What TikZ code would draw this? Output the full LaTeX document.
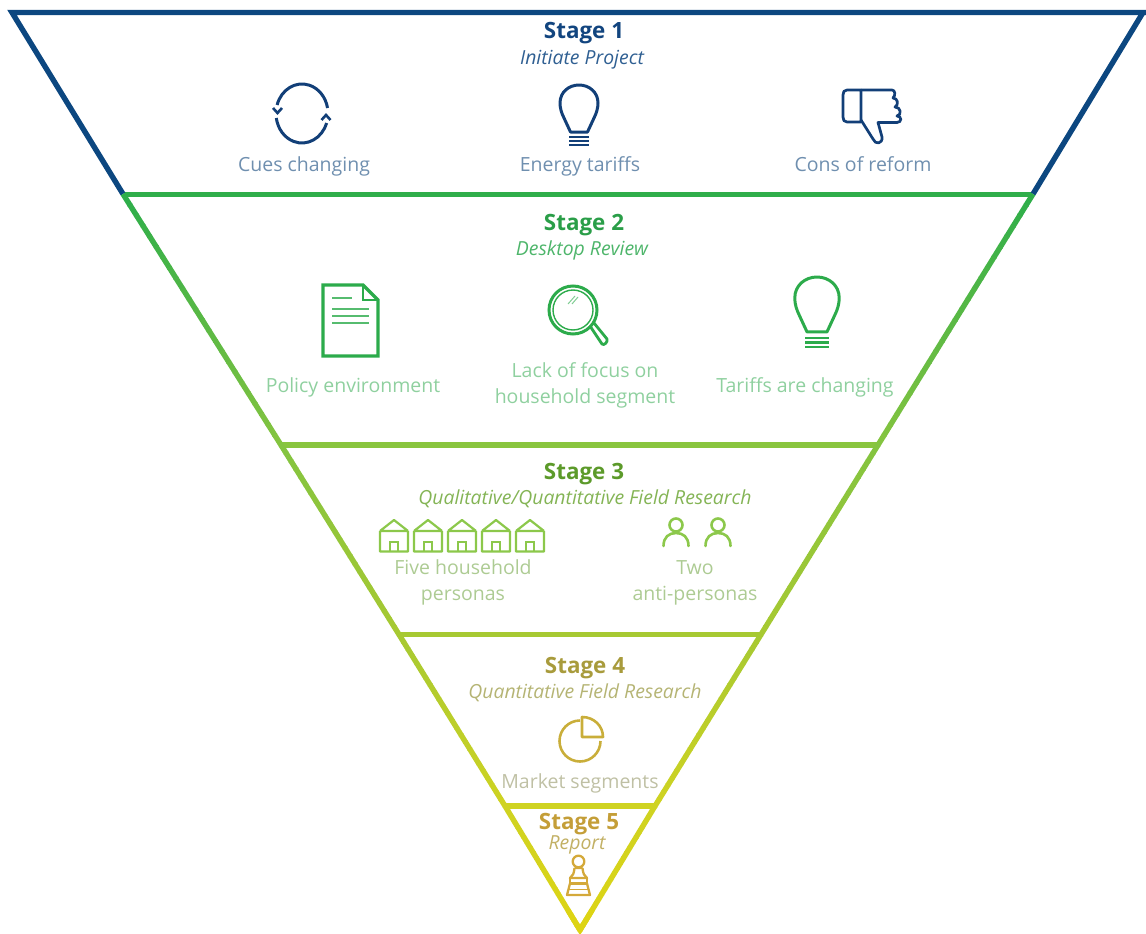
\documentclass[tikz,border=0pt]{standalone}
\usepackage{fontspec}
\setmainfont{Open Sans}
\definecolor{bA}{HTML}{0C4780}
\definecolor{gA}{HTML}{2FAE4A}
\definecolor{gB}{HTML}{84C440}
\definecolor{gC}{HTML}{A7C932}
\definecolor{gD}{HTML}{CFD322}
\definecolor{gE}{HTML}{DDD414}
\definecolor{tA}{HTML}{12457F}\definecolor{iA}{HTML}{2F5F92}\definecolor{lA}{HTML}{6F8FAF}\definecolor{icA}{HTML}{123F78}
\definecolor{tB}{HTML}{2A9E48}\definecolor{iB}{HTML}{4DB56A}\definecolor{lB}{HTML}{8FD09F}\definecolor{icB}{HTML}{2CAB4B}
\definecolor{tC}{HTML}{5C9A2A}\definecolor{iC}{HTML}{84B455}\definecolor{lC}{HTML}{ADCB93}\definecolor{icC}{HTML}{8CC84B}
\definecolor{tD}{HTML}{A89B3C}\definecolor{iD}{HTML}{B5B474}\definecolor{lD}{HTML}{BFC0A4}\definecolor{icD}{HTML}{C9AE3A}
\definecolor{tE}{HTML}{C49E38}\definecolor{iE}{HTML}{C2B064}\definecolor{icE}{HTML}{D4A93A}
\newcommand{\gradseg}[6]{%
  \foreach \i in {0,...,23}{%
    \pgfmathsetmacro{\xa}{#1+(#3-#1)*\i/24}\pgfmathsetmacro{\ya}{#2+(#4-#2)*\i/24}%
    \pgfmathsetmacro{\xb}{#1+(#3-#1)*(\i+1.1)/24}\pgfmathsetmacro{\yb}{#2+(#4-#2)*(\i+1.1)/24}%
    \pgfmathtruncatemacro{\pc}{100*\i/23}%
    \draw[edge,draw={#6!\pc!#5}] (\xa,\ya) -- (\xb,\yb);}}
\newcommand{\bulbicon}[4]{%
  \begin{scope}[shift={(#1,#2)},scale=#4,icon,draw=#3]
    \draw[line join=round] (-8.5,47) -- (-15,33) .. controls (-17.5,28) and (-19,23) .. (-19,18) .. controls (-19,7) and (-10,0) .. (0,0) .. controls (10,0) and (19,7) .. (19,18) .. controls (19,23) and (17.5,28) .. (15,33) -- (8.5,47) -- cycle;
    \draw[line width=2.4pt] (-10,52) -- (10,52) (-10,56) -- (10,56) (-10,60) -- (10,60);
  \end{scope}}
\newcommand{\houseicon}[1]{%
  \begin{scope}[shift={(#1,519)},icon,draw=icC,line width=2.2pt]
    \draw[line join=round] (1,12) -- (15,1) -- (29,12) (1,12) -- (1,32.5) -- (29,32.5) -- (29,12) (1,12) -- (29,12);
    \draw (11,32.5) -- (11,23) -- (19,23) -- (19,32.5);
  \end{scope}}
\newcommand{\personicon}[1]{%
  \begin{scope}[shift={(#1,525)},icon,draw=icC,line width=2.6pt]
    \draw (0,0) circle (6.5);
    \draw[line cap=round] (-12.5,21) .. controls (-12.5,12) and (-7,8) .. (0,8) .. controls (7,8) and (12.5,12) .. (12.5,21);
  \end{scope}}
\tikzset{
  edge/.style={line width=5.4pt,line cap=butt},
  icon/.style={line width=3pt,line join=miter},
  stagetitle/.style={font=\fontsize{22.4}{26}\selectfont\bfseries,inner sep=0pt,anchor=base},
  stagesub/.style={font=\fontsize{19.4}{22}\selectfont\itshape,inner sep=0pt,anchor=base},
  stagelabel/.style={font=\fontsize{19.5}{26}\selectfont,inner sep=0pt,align=center,anchor=base},
  stagelabeltwo/.style={font=\fontsize{19.5}{26}\selectfont,inner sep=0pt,align=center},
}
\begin{document}
\begin{tikzpicture}[x=1pt,y=-1pt]
\useasboundingbox (0,0) rectangle (1146,934);
% horizontal bars
\draw[edge,draw=gA] (124,194.5) -- (1032,194.5);
\draw[edge,draw=gB!85!gC] (281,445) -- (878,445);
\draw[edge,draw=gC] (399,634.5) -- (761,634.5);
\draw[edge,draw=gD] (505,806) -- (655,806);
% outline
\draw[edge,draw=bA,line join=miter] (123,194) -- (12,12.5) -- (1146,12.5);
\draw[edge,draw=bA] (1033,194) -- (1143,12.5);
\gradseg{123}{194}{281}{445}{gA}{gB}
\gradseg{1033}{194}{878}{445}{gA}{gB}
\gradseg{281}{445}{399}{634.5}{gB}{gC}
\gradseg{878}{445}{761}{634.5}{gB}{gC}
\gradseg{399}{634.5}{505}{806}{gC}{gD}
\gradseg{761}{634.5}{655}{806}{gC}{gD}
\gradseg{505}{806}{580}{930}{gD}{gE}
\gradseg{655}{806}{580}{930}{gD}{gE}
\draw[edge,draw=gE,line join=miter] (568,910.2) -- (580,930) -- (592,910.2);
% stage 1
\node[stagetitle,text=tA] (s1) at (584,39) {Stage 1};
\node[stagesub,text=iA] (s1s) at (582,64) {Initiate Project};
\node[stagelabel,text=lA] (l11) at (304,171) {Cues changing};
\node[stagelabel,text=lA] (l12) at (580,171) {Energy tariffs};
\node[stagelabel,text=lA] (l13) at (863,171) {Cons of reform};
\begin{scope}[icon,draw=icA]
  \draw (277.1,105) arc (196.7:349.3:26 and 29.5);
  \draw (326.6,123) arc (18.8:171.2:26 and 29.5);
  \draw[line width=2.6pt] (273,108) -- (277.5,113) -- (282,108);
  \draw[line width=2.6pt] (321.5,120) -- (326,115) -- (330.5,120);
\end{scope}
\bulbicon{579}{85}{icA}{1}
\begin{scope}[icon,draw=icA,line join=round,line width=2.7pt]
  \draw (847,90) -- (861,90) -- (861,122) -- (847,122) .. controls (844,122) and (843,120) .. (843,117) -- (843,95) .. controls (843,92) and (844,90) .. (847,90) -- cycle;
  \draw (861,90) -- (892,90) .. controls (895,90) and (896,95) .. (893,98) .. controls (898,98) and (899,105) .. (895,107) .. controls (901,107) and (902,115) .. (897,116) .. controls (902,116) and (902,122.5) .. (897,122.5) -- (878,122.5) -- (882,137) .. controls (883,144) and (875,145) .. (873,139) -- (861,120);
\end{scope}
% stage 2
\node[stagetitle,text=tB] (s2) at (584,230) {Stage 2};
\node[stagesub,text=iB] (s2s) at (582,255) {Desktop Review};
\node[stagelabel,text=lB] (l21) at (353,392) {Policy environment};
\node[stagelabeltwo,text=lB] (l22) at (585,385) {Lack of focus on\\household segment};
\node[stagelabel,text=lB] (l23) at (805,392) {Tariffs are changing};
\begin{scope}[icon,draw=icB]
  \draw[line width=3.4pt] (323,285) -- (363,285) -- (378,300) -- (378,356) -- (323,356) -- cycle;
  \draw[line width=2.4pt] (363,285) -- (363,300) -- (378,300);
  \draw[line width=2.2pt,draw=icB!80] (332,298) -- (352,298) (332,309) -- (369,309) (332,316) -- (369,316) (332,323) -- (369,323);
  \draw (573,310) circle (24);
  \draw[line width=1.4pt] (573,310) circle (20);
  \draw[line width=1pt,draw=icB!60] (568,304) -- (575,296) (572,304) -- (578,297);
  \draw[line width=2.8pt,line join=round] (590,326) -- (602,344) .. controls (604,346) and (608,342) .. (607,339) -- (594,323);
\end{scope}
\bulbicon{817}{277}{icB}{1.17}
% stage 3
\node[stagetitle,text=tC] (s3) at (584,479) {Stage 3};
\node[stagesub,text=iC] (s3s) at (585,504) {Qualitative/Quantitative Field Research};
\node[stagelabeltwo,text=lC] (l31) at (463,582) {Five household\\personas};
\node[stagelabeltwo,text=lC] (l32) at (695,583) {Two\\anti-personas};
\houseicon{379}\houseicon{413}\houseicon{447}\houseicon{481}\houseicon{515}
\personicon{676}\personicon{718}
% stage 4
\node[stagetitle,text=tD] (s4) at (585,673) {Stage 4};
\node[stagesub,text=iD] (s4s) at (585,698) {Quantitative Field Research};
\node[stagelabel,text=lD] (l41) at (580,788) {Market segments};
\begin{scope}[icon,draw=icD,line width=2.6pt]
  \draw (600.5,741) arc (0:270:20.5);
  \draw[line join=round] (582,737) -- (582,717) .. controls (594,717) and (603,726) .. (603,737) -- cycle;
\end{scope}
% stage 5
\node[stagetitle,text=tE] (s5) at (579,829) {Stage 5};
\node[stagesub,text=iE] (s5s) at (577,849) {Report};
\begin{scope}[icon,draw=icE,line width=2.3pt,line join=round]
  \draw (578.5,861.5) circle (5.8);
  \draw (574.5,868) -- (582.5,868) (574.5,868) .. controls (574,873) and (573,876) .. (570,878) -- (587,878) .. controls (584,876) and (583,873) .. (582.5,868);
  \draw (570,878) -- (570,883.5) -- (587,883.5) -- (587,878);
  \draw (570,883.5) -- (567,895) -- (590,895) -- (587,883.5);
  \draw[line width=1.4pt] (569,889.5) -- (588,889.5);
\end{scope}
\end{tikzpicture}
\end{document}
